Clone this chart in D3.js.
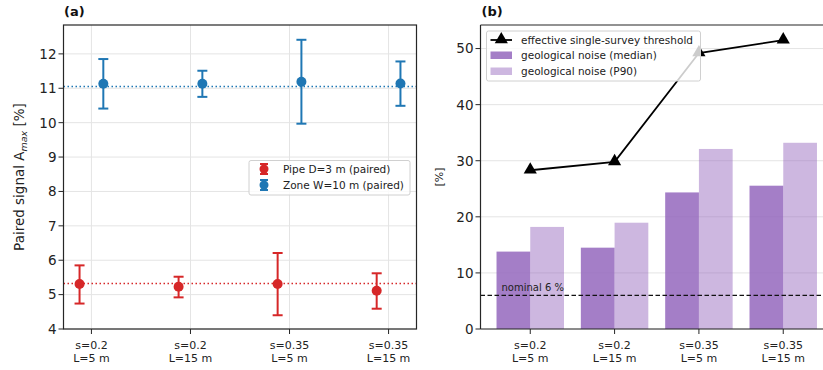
<!DOCTYPE html>
<html>
<head>
<meta charset="utf-8">
<script src="https://cdn.jsdelivr.net/npm/d3@7"></script>
<style>
  body { margin: 0; background: #fff; }
  svg { font-family: "DejaVu Sans", sans-serif; }
</style>
</head>
<body>
<svg id="chart" width="823" height="370"></svg>
<script>
// categories (two-line tick labels)
var configs = [["s=0.2", "L=5 m"], ["s=0.2", "L=15 m"], ["s=0.35", "L=5 m"], ["s=0.35", "L=15 m"]];

// panel (a): paired signal, mean with lower/upper error bar ends
var pipeMean = [5.31, 5.23, 5.31, 5.11];
var pipeLow  = [4.74, 4.92, 4.40, 4.59];
var pipeHigh = [5.85, 5.52, 6.21, 5.62];
var zoneMean = [11.13, 11.13, 11.19, 11.14];
var zoneLow  = [10.41, 10.75, 9.97, 10.49];
var zoneHigh = [11.85, 11.51, 12.41, 11.78];
var pipeRef = 5.32, zoneRef = 11.05;
var aTicks = [4, 5, 6, 7, 8, 9, 10, 11, 12];

// panel (b): noise and threshold
var noiseMedian = [13.8, 14.5, 24.35, 25.55];
var noiseP90    = [18.2, 18.95, 32.1, 33.2];
var threshold   = [28.3, 29.8, 49.2, 51.5];
var nominal = 6;
var bTicks = [0, 10, 20, 30, 40, 50];

var svg = d3.select("#chart");
var spine = "#262626", gridCol = "#e4e4e4";

function bottomTicks(g, x, y0) {
    configs.forEach(function (c, i) {
        g.append("line").attr("x1", x(i)).attr("x2", x(i)).attr("y1", y0).attr("y2", y0 + 5)
            .attr("stroke", spine).attr("stroke-width", 1);
        var t = g.append("text").attr("x", x(i)).attr("y", y0 + 20)
            .attr("text-anchor", "middle").attr("font-size", "11px").attr("fill", "#222");
        t.append("tspan").attr("x", x(i)).text(c[0]);
        t.append("tspan").attr("x", x(i)).attr("dy", 13.3).text(c[1]);
    });
}
function leftTicks(g, y, ticks, x0) {
    ticks.forEach(function (v) {
        g.append("line").attr("x1", x0 - 5).attr("x2", x0).attr("y1", y(v)).attr("y2", y(v))
            .attr("stroke", spine).attr("stroke-width", 1);
        g.append("text").attr("x", x0 - 7).attr("y", y(v)).attr("dy", "0.36em")
            .attr("text-anchor", "end").attr("font-size", "13.5px").attr("fill", "#222").text(v);
    });
}

// ---------------- panel (a) ----------------
var aL = 63.5, aR = 416.5, yTop = 25, yBot = 329;
var xa = d3.scaleLinear().domain([-0.282, 3.282]).range([aL, aR]);
var ya = d3.scaleLinear().domain([4, 12.84]).range([yBot, yTop]);
var ga = svg.append("g");
var off = 0.12;

// grid
aTicks.forEach(function (v) {
    ga.append("line").attr("x1", aL).attr("x2", aR).attr("y1", ya(v)).attr("y2", ya(v))
        .attr("stroke", gridCol).attr("stroke-width", 1);
});
configs.forEach(function (c, i) {
    ga.append("line").attr("x1", xa(i)).attr("x2", xa(i)).attr("y1", yTop).attr("y2", yBot)
        .attr("stroke", gridCol).attr("stroke-width", 1);
});

// reference dotted lines
[[pipeRef, "#d62728"], [zoneRef, "#1f77b4"]].forEach(function (r) {
    ga.append("line").attr("x1", aL).attr("x2", aR).attr("y1", ya(r[0])).attr("y2", ya(r[0]))
        .attr("stroke", r[1]).attr("stroke-width", 1.5).attr("stroke-dasharray", "1.5,2.5");
});

function errorSeries(mean, lo, hi, dx, col) {
    mean.forEach(function (m, i) {
        var cx = xa(i + dx);
        ga.append("line").attr("x1", cx).attr("x2", cx).attr("y1", ya(lo[i])).attr("y2", ya(hi[i]))
            .attr("stroke", col).attr("stroke-width", 2);
        [lo[i], hi[i]].forEach(function (v) {
            ga.append("line").attr("x1", cx - 5).attr("x2", cx + 5).attr("y1", ya(v)).attr("y2", ya(v))
                .attr("stroke", col).attr("stroke-width", 2);
        });
        ga.append("circle").attr("cx", cx).attr("cy", ya(m)).attr("r", 5).attr("fill", col);
    });
}
errorSeries(pipeMean, pipeLow, pipeHigh, -off, "#d62728");
errorSeries(zoneMean, zoneLow, zoneHigh, off, "#1f77b4");

ga.append("rect").attr("x", aL).attr("y", yTop).attr("width", aR - aL).attr("height", yBot - yTop)
    .attr("fill", "none").attr("stroke", spine).attr("stroke-width", 1.2);
leftTicks(ga, ya, aTicks, aL);
bottomTicks(ga, xa, yBot);

var yl = ga.append("text").attr("transform", "translate(24," + ((yTop + yBot) / 2) + ") rotate(-90)")
    .attr("text-anchor", "middle").attr("font-size", "13.5px").attr("fill", "#222");
yl.append("tspan").text("Paired signal A");
yl.append("tspan").attr("font-size", "9.5px").attr("font-style", "italic").attr("dy", 3).text("max");
yl.append("tspan").attr("dy", -3).text(" [%]");

ga.append("text").attr("x", 64).attr("y", 16).attr("font-size", "13px").attr("font-weight", "bold")
    .attr("fill", "#111").text("(a)");

// legend (a)
var la = ga.append("g");
la.append("rect").attr("x", 249).attr("y", 160.5).attr("width", 161).attr("height", 34.5).attr("rx", 2)
    .attr("fill", "#fff").attr("fill-opacity", 0.8).attr("stroke", "#d0d0d0");
[["Pipe D=3 m (paired)", "#d62728"], ["Zone W=10 m (paired)", "#1f77b4"]].forEach(function (e, i) {
    var cy = 169 + i * 16, cx = 264;
    la.append("line").attr("x1", cx).attr("x2", cx).attr("y1", cy - 5).attr("y2", cy + 5)
        .attr("stroke", e[1]).attr("stroke-width", 2);
    [cy - 5, cy + 5].forEach(function (yy) {
        la.append("line").attr("x1", cx - 4).attr("x2", cx + 4).attr("y1", yy).attr("y2", yy)
            .attr("stroke", e[1]).attr("stroke-width", 2);
    });
    la.append("circle").attr("cx", cx).attr("cy", cy).attr("r", 4.5).attr("fill", e[1]);
    la.append("text").attr("x", 283).attr("y", cy).attr("dy", "0.36em").attr("font-size", "10.5px")
        .attr("fill", "#222").text(e[0]);
});

// ---------------- panel (b) ----------------
var bL = 480.5, bR = 833;
var xb = d3.scaleLinear().domain([-0.59, 3.59]).range([bL, bR]);
var yb = d3.scaleLinear().domain([0, 54.2]).range([yBot, yTop]);
var gb = svg.append("g");
var bw = 0.4;

bTicks.forEach(function (v) {
    gb.append("line").attr("x1", bL).attr("x2", bR).attr("y1", yb(v)).attr("y2", yb(v))
        .attr("stroke", gridCol).attr("stroke-width", 1);
});

gb.selectAll("rect.med").data(noiseMedian).enter().append("rect").attr("class", "med")
    .attr("x", function (d, i) { return xb(i - bw); })
    .attr("width", function () { return xb(bw) - xb(0); })
    .attr("y", function (d) { return yb(d); })
    .attr("height", function (d) { return yb(0) - yb(d); })
    .attr("fill", "#9467bd").attr("fill-opacity", 0.85);
gb.selectAll("rect.p90").data(noiseP90).enter().append("rect").attr("class", "p90")
    .attr("x", function (d, i) { return xb(i); })
    .attr("width", function () { return xb(bw) - xb(0); })
    .attr("y", function (d) { return yb(d); })
    .attr("height", function (d) { return yb(0) - yb(d); })
    .attr("fill", "#9467bd").attr("fill-opacity", 0.47);

gb.append("line").attr("x1", bL).attr("x2", bR).attr("y1", yb(nominal)).attr("y2", yb(nominal))
    .attr("stroke", "#111").attr("stroke-width", 1.3).attr("stroke-dasharray", "4.5,2.5");
gb.append("text").attr("x", 501.5).attr("y", yb(nominal) - 4).attr("font-size", "10px")
    .attr("fill", "#222").text("nominal 6 %");

var tri = d3.symbol().type(d3.symbolTriangle).size(75);
gb.append("path").datum(threshold)
    .attr("d", d3.line().x(function (d, i) { return xb(i); }).y(function (d) { return yb(d); }))
    .attr("fill", "none").attr("stroke", "#000").attr("stroke-width", 1.8);
gb.selectAll("path.tri").data(threshold).enter().append("path").attr("class", "tri")
    .attr("d", tri)
    .attr("transform", function (d, i) { return "translate(" + xb(i) + "," + (yb(d) - 0.5) + ")"; })
    .attr("fill", "#000");

gb.append("line").attr("x1", bL).attr("x2", bR).attr("y1", yTop).attr("y2", yTop)
    .attr("stroke", spine).attr("stroke-width", 1.2);
gb.append("line").attr("x1", bL).attr("x2", bR).attr("y1", yBot).attr("y2", yBot)
    .attr("stroke", spine).attr("stroke-width", 1.2);
gb.append("line").attr("x1", bL).attr("x2", bL).attr("y1", yTop).attr("y2", yBot)
    .attr("stroke", spine).attr("stroke-width", 1.2);
leftTicks(gb, yb, bTicks, bL);
bottomTicks(gb, xb, yBot);

gb.append("text").attr("transform", "translate(443," + ((yTop + yBot) / 2) + ") rotate(-90)")
    .attr("text-anchor", "middle").attr("font-size", "11px").attr("fill", "#222").text("[%]");
gb.append("text").attr("x", 481.5).attr("y", 16).attr("font-size", "13px").attr("font-weight", "bold")
    .attr("fill", "#111").text("(b)");

// legend (b)
var lb = gb.append("g");
lb.append("rect").attr("x", 486.5).attr("y", 31).attr("width", 214).attr("height", 50).attr("rx", 2)
    .attr("fill", "#fff").attr("fill-opacity", 0.8).attr("stroke", "#d0d0d0");
lb.append("line").attr("x1", 490.5).attr("x2", 512).attr("y1", 40).attr("y2", 40)
    .attr("stroke", "#000").attr("stroke-width", 1.8);
lb.append("path").attr("d", tri).attr("transform", "translate(501.3,39.5)").attr("fill", "#000");
lb.append("rect").attr("x", 490.5).attr("y", 51.5).attr("width", 21.5).attr("height", 7.5)
    .attr("fill", "#9467bd").attr("fill-opacity", 0.85);
lb.append("rect").attr("x", 490.5).attr("y", 67.5).attr("width", 21.5).attr("height", 7.5)
    .attr("fill", "#9467bd").attr("fill-opacity", 0.47);
["effective single-survey threshold", "geological noise (median)", "geological noise (P90)"].forEach(function (t, i) {
    lb.append("text").attr("x", 521).attr("y", 40 + i * 15.7).attr("dy", "0.36em")
        .attr("font-size", "10.5px").attr("fill", "#222").text(t);
});
</script>
</body>
</html>
